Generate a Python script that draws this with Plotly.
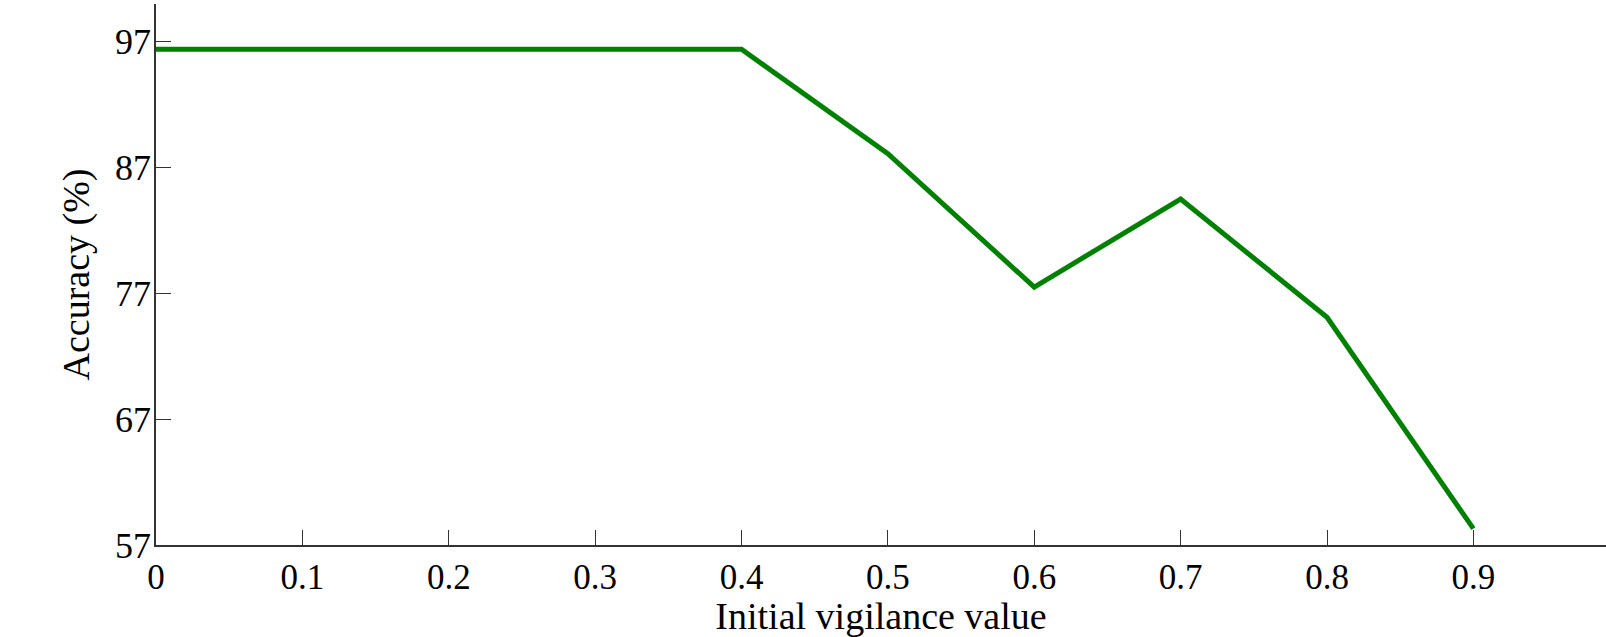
import plotly.graph_objects as go

vigilance = [0, 0.1, 0.2, 0.3, 0.4, 0.5, 0.6, 0.7, 0.8, 0.9]
accuracy = [96.4, 96.4, 96.4, 96.4, 96.4, 88.1, 77.5, 84.5, 75.1, 58.3]
x_ticks = [0, 0.1, 0.2, 0.3, 0.4, 0.5, 0.6, 0.7, 0.8, 0.9]
x_ticklabels = ["0", "0.1", "0.2", "0.3", "0.4", "0.5", "0.6", "0.7", "0.8", "0.9"]
y_ticks = [57, 67, 77, 87, 97]
y_ticklabels = ["57", "67", "77", "87", "97"]

fig = go.Figure()
fig.add_trace(go.Scatter(
    x=vigilance, y=accuracy, mode="lines",
    line=dict(color="#008000", width=5),
    showlegend=False,
))

font = dict(family="Liberation Serif, Times New Roman, serif", color="black")

fig.update_layout(
    width=1606, height=637,
    margin=dict(l=156, r=0, t=4, b=92),
    paper_bgcolor="white", plot_bgcolor="white",
    font=dict(**font, size=30),
    xaxis=dict(
        range=[0, 0.9906], tickvals=x_ticks, ticktext=x_ticklabels,
        showgrid=False, zeroline=False, showline=True, linecolor="#333", linewidth=1.5,
        ticks="inside", ticklen=15, tickwidth=1.2, tickcolor="#333",
        tickfont=dict(**font, size=35),
        title=dict(text="Initial vigilance value", font=dict(**font, size=38), standoff=4),
    ),
    yaxis=dict(
        range=[57, 100], tickvals=y_ticks, ticktext=y_ticklabels,
        showgrid=False, zeroline=False, showline=True, linecolor="#333", linewidth=1.5,
        ticks="inside", ticklen=15, tickwidth=1.2, tickcolor="#333",
        tickfont=dict(**font, size=36), ticklabelstandoff=-4,
        title=dict(text="Accuracy (%)", font=dict(**font, size=38), standoff=14),
    ),
)

fig.write_html("out.html")
